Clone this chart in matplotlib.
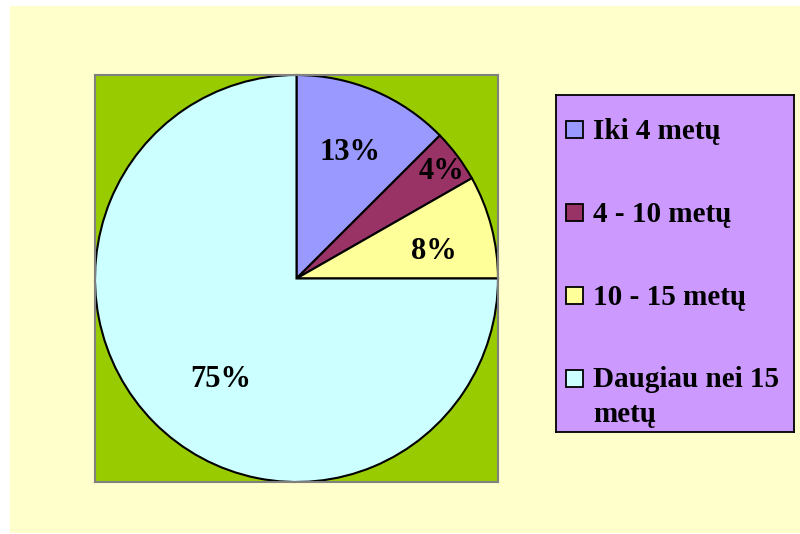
import numpy as np
import matplotlib
matplotlib.use("Agg")
import matplotlib.pyplot as plt
from matplotlib.patches import Rectangle

categories = ["Iki 4 metų", "4 - 10 metų", "10 - 15 metų", "Daugiau nei 15\nmetų"]
values = [12.6, 4.2, 8.2, 75.0]
colors = ["#9999FF", "#993366", "#FFFF99", "#CCFFFF"]

plt.rcParams['font.family'] = ['Liberation Serif', 'DejaVu Serif']

W, H = 800, 534
fig = plt.figure(figsize=(W/100, H/100), dpi=100)
fig.patch.set_facecolor("white")
fig.add_artist(Rectangle((10/W, 1/H), 790/W, 527/H, transform=fig.transFigure,
                         facecolor="#FFFFCC", edgecolor="none", zorder=0))

ax = fig.add_axes([95/W, 52/H, 403/W, 407/H])
ax.set_facecolor("#99CC00")
wedges, texts, autotexts = ax.pie(values, colors=colors, startangle=90, counterclock=False,
                                  autopct='%.0f%%', frame=True,
                                  wedgeprops=dict(edgecolor="black", linewidth=1.5),
                                  textprops=dict(fontsize=22, fontweight='bold', color='black'))
ax.set_aspect('auto')
ax.set_xlim(-1.0, 1.0)
ax.set_ylim(-1.0, 1.0)
ax.set_xticks([]); ax.set_yticks([])
for s in ax.spines.values():
    s.set_color("#808080")
    s.set_linewidth(1.5)

label_r = [0.69, 0.90, 0.70, 0.61]
label_dtheta = [0.0, 0.0, -2.5, 6.7]
for w, t, r, dt in zip(wedges, autotexts, label_r, label_dtheta):
    mid = np.deg2rad((w.theta1 + w.theta2) / 2 + dt)
    t.set_position((r * np.cos(mid), r * np.sin(mid)))
    t.set_ha('center'); t.set_va('center_baseline')

# legend box (drawn as its own axes, in pixel coordinates from top-left)
lx0, ly0, lw, lh = 556, 95, 238, 337
lax = fig.add_axes([lx0/W, 1 - (ly0 + lh)/H, lw/W, lh/H])
lax.set_facecolor("#CC99FF")
lax.set_xlim(0, lw)
lax.set_ylim(lh, 0)
lax.set_xticks([]); lax.set_yticks([])
for s in lax.spines.values():
    s.set_color("black")
    s.set_linewidth(1.3)

first_baseline = 139 - ly0
step = 83
line_px = 34
for i, (lab, c) in enumerate(zip(categories, colors)):
    b = first_baseline + step * i
    lax.add_patch(Rectangle((10, b - 18), 17, 17, facecolor=c, edgecolor='black', linewidth=1.3))
    extra = lab.count('\n') * line_px
    lax.text(37, b + extra, lab, fontsize=21, fontweight='bold', color='black',
             ha='left', va='baseline', linespacing=1.36)

fig.savefig("out.png", dpi=100, facecolor=fig.get_facecolor())
